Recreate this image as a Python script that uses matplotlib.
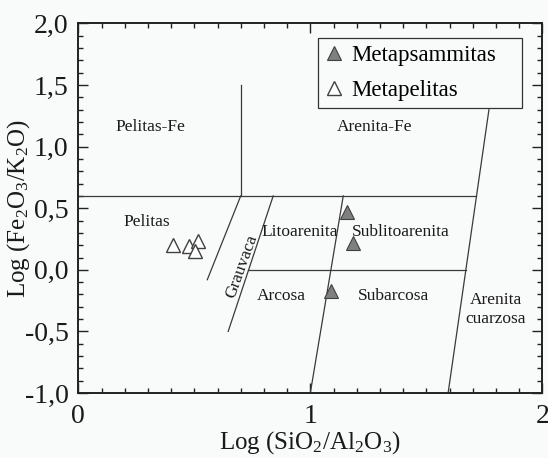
import numpy as np
import matplotlib
matplotlib.use("Agg")
import matplotlib.pyplot as plt
from matplotlib.ticker import MultipleLocator, FuncFormatter

plt.rcParams['font.family'] = ['Liberation Serif', 'DejaVu Serif']
plt.rcParams['mathtext.fontset'] = 'custom'
plt.rcParams['mathtext.rm'] = 'Liberation Serif'
plt.rcParams['mathtext.it'] = 'Liberation Serif:italic'

# samples: Log(SiO2/Al2O3), Log(Fe2O3/K2O)
psam_x = [1.16, 1.185, 1.09]
psam_y = [0.47, 0.22, -0.17]
pel_x = [0.41, 0.475, 0.515, 0.505]
pel_y = [0.20, 0.19, 0.235, 0.15]

# field boundaries (Herron 1988)
bounds = [
    ([0.70, 0.70], [0.6, 1.5]),
    ([0.0, 1.713], [0.6, 0.6]),
    ([1.594, 1.77], [-1.0, 1.30]),
    ([1.0, 1.142], [-1.0, 0.6]),
    ([0.556, 0.70], [-0.08, 0.6]),
    ([0.646, 0.84], [-0.50, 0.6]),
    ([0.733, 1.671], [0.0, 0.0]),
]

fields = ['Pelitas-Fe', 'Arenita-Fe', 'Pelitas', 'Litoarenita', 'Sublitoarenita',
          'Arcosa', 'Subarcosa', 'Arenita\ncuarzosa']
field_x = [0.31, 1.275, 0.295, 0.955, 1.39, 0.875, 1.36, 1.80]
field_y = [1.16, 1.16, 0.385, 0.31, 0.305, -0.215, -0.21, -0.32]

bg = '#f9fafa'
fig = plt.figure(figsize=(5.48, 4.58), dpi=100, facecolor=bg)
ax = fig.add_axes([0.1429, 0.1419, 0.8467, 0.8068], facecolor=bg)

for bx, by in bounds:
    ax.plot(bx, by, color='#3a3a3a', lw=0.9)

for name, fx, fy in zip(fields, field_x, field_y):
    ax.text(fx, fy, name, ha='center', va='center', fontsize=12.5,
            color='#1a1a1a', linespacing=1.25)
ax.text(0.707, 0.03, 'Grauvaca', ha='center', va='center', fontsize=12.5,
        rotation=70, color='#1a1a1a')

ax.plot(psam_x, psam_y, ls='none', marker='^', ms=10, mfc='#7f7f7f',
        mec='#404040', mew=0.8, label='Metapsammitas')
ax.plot(pel_x, pel_y, ls='none', marker='^', ms=10, mfc='white',
        mec='#404040', mew=1.0, label='Metapelitas')

ax.set_xlim(0, 2)
ax.set_ylim(-1, 2)
ax.xaxis.set_major_locator(MultipleLocator(1))
ax.xaxis.set_minor_locator(MultipleLocator(0.1))
ax.yaxis.set_major_locator(MultipleLocator(0.5))
ax.yaxis.set_minor_locator(MultipleLocator(0.1))
ax.xaxis.set_major_formatter(FuncFormatter(lambda v, p: '%d' % round(v)))
ax.yaxis.set_major_formatter(FuncFormatter(lambda v, p: ('%.1f' % v).replace('.', ',')))
ax.tick_params(which='both', direction='in', top=True, right=True, width=1.0,
               labelsize=20, color='#222222', labelcolor='#1a1a1a')
ax.tick_params(which='major', length=7, pad=7)
ax.tick_params(axis='x', which='major', pad=8)
ax.tick_params(which='minor', length=3.5)
for s in ax.spines.values():
    s.set_linewidth(1.4)
    s.set_color('#222222')

ax.set_xlabel('Log (SiO$_2$/Al$_2$O$_3$)', fontsize=18, color='#1a1a1a', labelpad=0)
ax.set_ylabel('Log (Fe$_2$O$_3$/K$_2$O)', fontsize=18, color='#1a1a1a', va='center')
ax.yaxis.set_label_coords(-0.128, 0.5)

leg = ax.legend(loc='upper left', bbox_to_anchor=(0.517, 0.770, 0.44, 0.19),
                mode='expand', borderaxespad=0,
                fontsize=16.5, fancybox=False, edgecolor='#333333', facecolor=bg,
                framealpha=1, handletextpad=0.35, labelspacing=0.6,
                borderpad=0.3, handlelength=0.8)
leg.get_frame().set_linewidth(0.9)

fig.savefig('out.png', dpi=100, facecolor=bg)
